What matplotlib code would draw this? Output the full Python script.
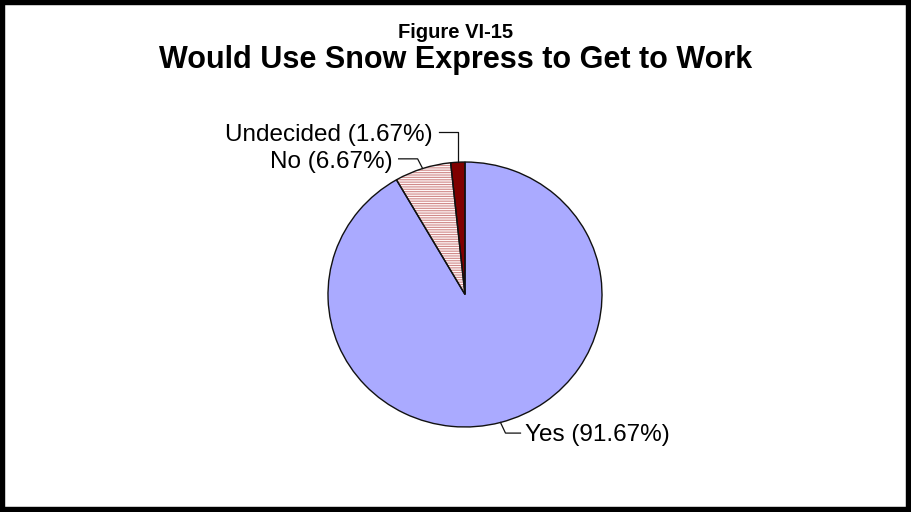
import numpy as np
import matplotlib
matplotlib.use("Agg")
import matplotlib.pyplot as plt
from matplotlib.patches import Rectangle

plt.rcParams['font.family'] = ['Liberation Sans', 'DejaVu Sans']
plt.rcParams['hatch.linewidth'] = 0.8

# data
labels = ['Yes', 'No', 'Undecided']
values = [91.67, 6.67, 1.67]
colors = ['#AAAAFF', '#FFF8F8', '#800000']

W, H = 911, 512
SY = 0.967  # the pie is slightly squashed vertically
fig = plt.figure(figsize=(W / 100, H / 100), dpi=100)
ax = fig.add_axes([0, 0, 1, 1])

# pie geometry, x in pixels, y in pixels / SY (y up)
cx, cy, r = 465, (H - 294.5) / SY, 137

wedges, _ = ax.pie(values, colors=colors, startangle=90, counterclock=False,
                   center=(cx, cy), radius=r,
                   wedgeprops=dict(linewidth=0))
# hatch for "No"
wedges[1].set_hatch('-------')
wedges[1].set_edgecolor('#D08A8A')
# dark outlines on top
ax.pie(values, startangle=90, counterclock=False, center=(cx, cy), radius=r,
       wedgeprops=dict(fill=False, edgecolor='#111111', linewidth=1.0))

ax.set_xlim(0, W)
ax.set_ylim(0, H / SY)
ax.set_aspect('auto')
ax.axis('off')

# leader lines and labels
fs = 17.5
lw = 0.9
for w, lab, v in zip(wedges, labels, values):
    ang = np.deg2rad((w.theta1 + w.theta2) / 2)
    ex, ey = cx + r * np.cos(ang), cy + r * np.sin(ang)
    txt = f'{lab} ({v:.2f}%)'
    if lab == 'Undecided':
        pts = [(ex, ey), (ex, ey + 31), (ex - 19, ey + 31)]
        ax.text(pts[-1][0] - 6, pts[-1][1] - 3, txt, ha='right', va='center', fontsize=fs)
    elif lab == 'No':
        pts = [(ex, ey), (ex - 5, ey + 10), (ex - 24, ey + 10)]
        ax.text(pts[-1][0] - 6, pts[-1][1] - 3.5, txt, ha='right', va='center', fontsize=fs)
    else:
        pts = [(ex, ey), (ex + 5, ey - 11), (ex + 20, ey - 11)]
        ax.text(pts[-1][0] + 5, pts[-1][1] - 1.5, txt, ha='left', va='center', fontsize=fs)
    xs, ys = zip(*pts)
    ax.plot(xs, ys, color='#111111', linewidth=lw)

fig.text(0.5, 1 - 33 / H, 'Figure VI-15', ha='center', va='center',
         fontsize=14.5, fontweight='bold')
fig.text(0.5, 1 - 60 / H, 'Would Use Snow Express to Get to Work', ha='center',
         va='center', fontsize=22, fontweight='bold')

fig.patches.append(Rectangle((0, 0), 1, 1, transform=fig.transFigure, fill=False,
                             edgecolor='black', linewidth=7.5))

fig.savefig('out.png', dpi=100)
